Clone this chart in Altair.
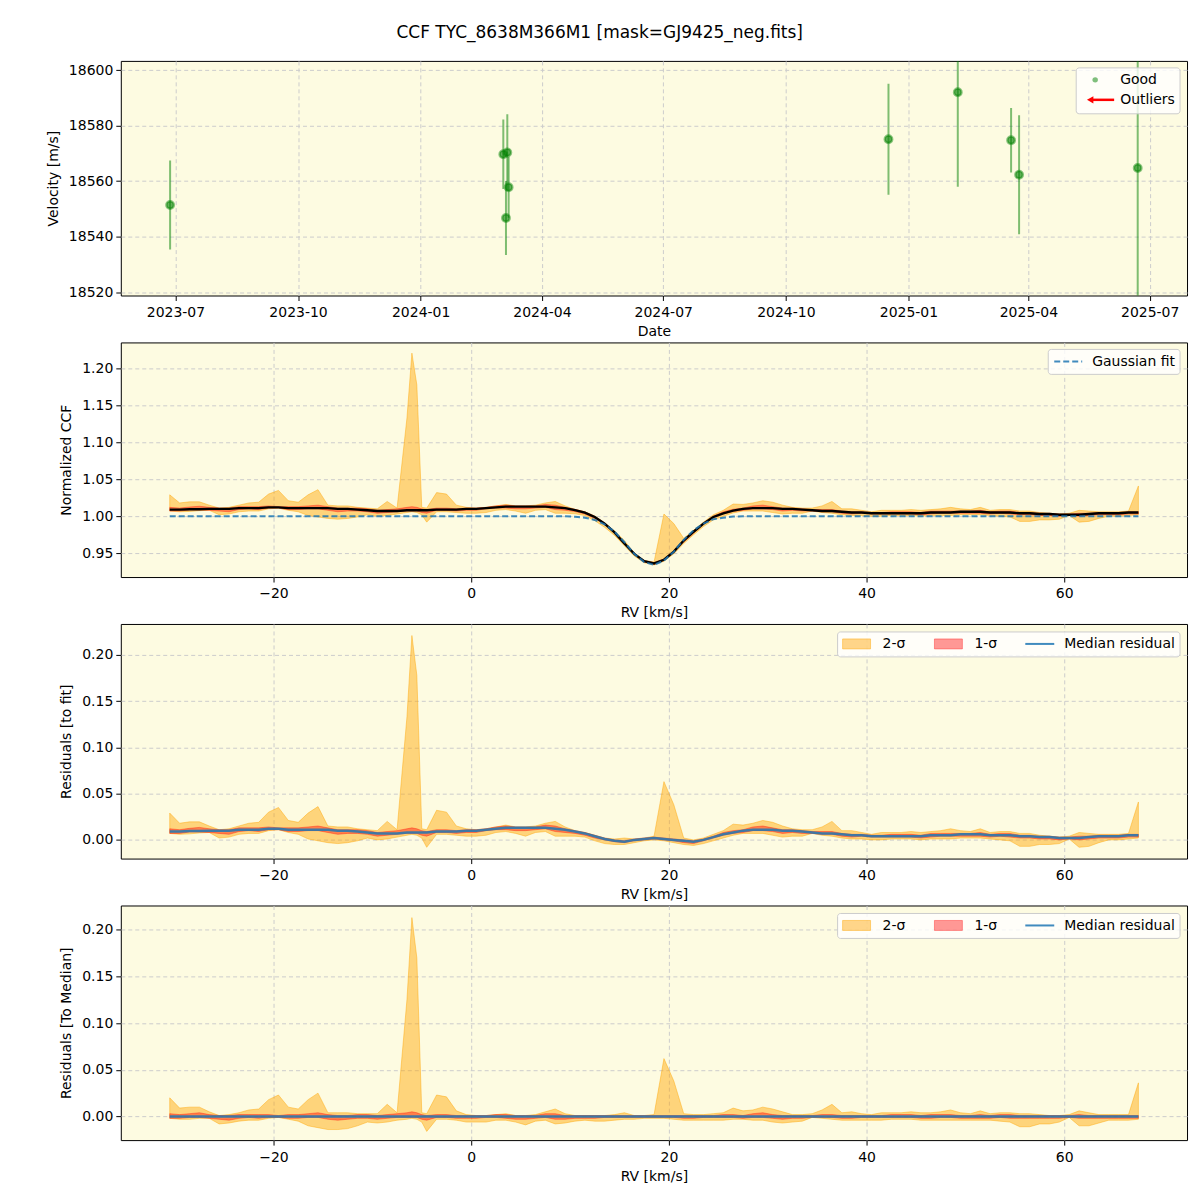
import altair as alt
import pandas as pd

TITLE = "CCF TYC_8638M366M1 [mask=GJ9425_neg.fits]"
FONT = "DejaVu Sans"

# ---------------- Panel 1: RV time series ----------------
OBS_DATES = ["2023-06-27", "2024-03-03", "2024-03-05", "2024-03-06", "2024-03-07",
             "2024-12-17", "2025-02-07", "2025-03-19", "2025-03-25", "2025-06-22"]
OBS_RV = [18551.4, 18569.7, 18546.7, 18570.3, 18557.8,
          18575.1, 18592.0, 18574.7, 18562.3, 18564.7]
OBS_ERR = [16.0, 12.5, 13.3, 13.8, 11.0, 20.0, 34.0, 11.6, 21.4, 48.0]
DATE_TICKS = [(2023, 7), (2023, 10), (2024, 1), (2024, 4), (2024, 7),
              (2024, 10), (2025, 1), (2025, 4), (2025, 7)]
VEL_TICKS = [18520, 18540, 18560, 18580, 18600]

# ---------------- CCF panels ----------------
RV_GRID = [-30.5, -29.5, -28.5, -27.5, -26.5, -25.5, -24.5, -23.5, -22.5, -21.5,
           -20.5, -19.5, -18.5, -17.5, -16.5, -15.5, -14.5, -13.5, -12.5, -11.5,
           -10.5, -9.5, -8.5, -7.5, -6.5, -6.0, -5.5, -5.0, -4.5, -3.5,
           -2.5, -1.5, -0.5, 0.5, 1.5, 2.5, 3.5, 4.5, 5.5, 6.5,
           7.5, 8.5, 9.5, 10.5, 11.5, 12.5, 13.5, 14.5, 15.5, 16.5,
           17.5, 18.5, 19.5, 20.5, 21.5, 22.5, 23.5, 24.5, 25.5, 26.5,
           27.5, 28.5, 29.5, 30.5, 31.5, 32.5, 33.5, 34.5, 35.5, 36.5,
           37.5, 38.5, 39.5, 40.5, 41.5, 42.5, 43.5, 44.5, 45.5, 46.5,
           47.5, 48.5, 49.5, 50.5, 51.5, 52.5, 53.5, 54.5, 55.5, 56.5,
           57.5, 58.5, 59.5, 60.5, 61.5, 62.5, 63.5, 64.5, 65.5, 66.5,
           67.5]

MEDIAN_CCF = [1.009, 1.009, 1.0095, 1.0095, 1.010, 1.010, 1.010, 1.011, 1.011, 1.011,
              1.012, 1.012, 1.011, 1.011, 1.011, 1.011, 1.011, 1.010, 1.010, 1.009,
              1.008, 1.007, 1.007, 1.007, 1.008, 1.008, 1.008, 1.008, 1.008, 1.009,
              1.009, 1.009, 1.010, 1.010, 1.011, 1.012, 1.013, 1.013, 1.013, 1.013,
              1.013, 1.012, 1.011, 1.0083, 1.005, 0.999, 0.990, 0.978, 0.963, 0.949,
              0.939, 0.936, 0.941, 0.952, 0.967, 0.979, 0.990, 0.999, 1.004, 1.0075,
              1.010, 1.011, 1.011, 1.011, 1.010, 1.010, 1.009, 1.008, 1.007, 1.007,
              1.006, 1.005, 1.005, 1.004, 1.004, 1.004, 1.004, 1.004, 1.004, 1.005,
              1.005, 1.005, 1.006, 1.006, 1.006, 1.005, 1.005, 1.005, 1.004, 1.004,
              1.003, 1.003, 1.002, 1.002, 1.002, 1.003, 1.004, 1.004, 1.004, 1.005,
              1.005]

GAUSS_FIT = [1.0, 1.0, 1.0, 1.0, 1.0, 1.0, 1.0, 1.0, 1.0, 1.0,
             1.0, 1.0, 1.0, 1.0, 1.0, 1.0, 1.0, 1.0, 1.0, 1.0,
             1.0, 1.0, 1.0, 1.0, 1.0, 1.0, 1.0, 1.0, 1.0, 1.0,
             1.0, 1.0, 1.0, 1.0, 1.0, 1.0, 1.0, 1.0, 1.0, 1.0,
             1.0, 1.0, 1.0, 0.9993, 0.998, 0.995, 0.989, 0.979, 0.965, 0.949,
             0.938, 0.934, 0.940, 0.952, 0.968, 0.981, 0.990, 0.996, 0.998, 0.9995,
             1.0, 1.0, 1.0, 1.0, 1.0, 1.0, 1.0, 1.0, 1.0, 1.0,
             1.0, 1.0, 1.0, 1.0, 1.0, 1.0, 1.0, 1.0, 1.0, 1.0,
             1.0, 1.0, 1.0, 1.0, 1.0, 1.0, 1.0, 1.0, 1.0, 1.0,
             1.0, 1.0, 1.0, 1.0, 1.0, 1.0, 1.0, 1.0, 1.0, 1.0,
             1.0]

# band edges, relative to the median CCF
HI2 = [0.020, 0.009, 0.010, 0.010, 0.005, 0.001, 0.002, 0.004, 0.007, 0.008,
       0.018, 0.023, 0.010, 0.008, 0.018, 0.025, 0.004, 0.004, 0.004, 0.003,
       0.003, 0.003, 0.013, 0.004, 0.125, 0.213, 0.170, 0.004, 0.003, 0.023,
       0.021, 0.006, 0.002, 0.001, 0.001, 0.002, 0.003, 0.001, 0.001, 0.002,
       0.005, 0.008, 0.003, 0.001, 0.001, 0.001, 0.001, 0.002, 0.004, 0.001,
       0.001, 0.002, 0.062, 0.038, 0.003, 0.002, 0.002, 0.003, 0.004, 0.009,
       0.006, 0.007, 0.010, 0.008, 0.005, 0.002, 0.002, 0.003, 0.007, 0.013,
       0.004, 0.005, 0.003, 0.002, 0.004, 0.004, 0.004, 0.005, 0.004, 0.004,
       0.005, 0.007, 0.004, 0.003, 0.006, 0.003, 0.004, 0.004, 0.003, 0.003,
       0.002, 0.001, 0.001, 0.002, 0.006, 0.004, 0.002, 0.002, 0.002, 0.002,
       0.036]
LO2 = [-0.002, -0.003, -0.003, -0.002, -0.002, -0.008, -0.007, -0.005, -0.004, -0.004,
       -0.002, -0.001, -0.003, -0.005, -0.010, -0.012, -0.014, -0.014, -0.013, -0.010,
       -0.006, -0.007, -0.006, -0.004, -0.003, -0.002, -0.003, -0.006, -0.016, -0.003,
       -0.003, -0.004, -0.006, -0.006, -0.006, -0.004, -0.004, -0.006, -0.009, -0.005,
       -0.004, -0.008, -0.007, -0.005, -0.004, -0.005, -0.005, -0.004, -0.003, -0.003,
       -0.002, -0.002, -0.002, -0.003, -0.004, -0.004, -0.004, -0.004, -0.004, -0.003,
       -0.003, -0.004, -0.004, -0.006, -0.007, -0.006, -0.005, -0.001, -0.002, -0.003,
       -0.004, -0.004, -0.004, -0.004, -0.004, -0.003, -0.003, -0.003, -0.004, -0.004,
       -0.004, -0.004, -0.004, -0.004, -0.004, -0.004, -0.005, -0.006, -0.011, -0.011,
       -0.008, -0.008, -0.006, -0.001, -0.010, -0.010, -0.007, -0.004, -0.004, -0.004,
       -0.003]
HI1 = [0.003, 0.002, 0.003, 0.004, 0.002, 0.001, 0.001, 0.002, 0.002, 0.002,
       0.002, 0.001, 0.002, 0.002, 0.003, 0.004, 0.002, 0.001, 0.001, 0.002,
       0.002, 0.001, 0.002, 0.003, 0.004, 0.005, 0.004, 0.002, 0.001, 0.002,
       0.002, 0.001, 0.001, 0.001, 0.001, 0.002, 0.002, 0.001, 0.001, 0.001,
       0.003, 0.003, 0.001, 0.001, 0.001, 0.001, 0.001, 0.001, 0.001, 0.001,
       0.001, 0.001, 0.001, 0.001, 0.001, 0.001, 0.001, 0.001, 0.002, 0.002,
       0.001, 0.003, 0.004, 0.002, 0.001, 0.001, 0.001, 0.001, 0.002, 0.002,
       0.001, 0.001, 0.001, 0.001, 0.001, 0.002, 0.002, 0.002, 0.001, 0.002,
       0.002, 0.002, 0.001, 0.001, 0.002, 0.001, 0.002, 0.002, 0.001, 0.001,
       0.001, 0.001, 0.001, 0.001, 0.002, 0.001, 0.001, 0.001, 0.001, 0.001,
       0.001]
LO1 = [-0.002, -0.002, -0.001, -0.001, -0.002, -0.003, -0.004, -0.002, -0.001, -0.002,
       -0.001, -0.001, -0.002, -0.002, -0.001, -0.001, -0.003, -0.004, -0.003, -0.002,
       -0.002, -0.003, -0.002, -0.001, -0.001, -0.001, -0.001, -0.003, -0.004, -0.001,
       -0.001, -0.002, -0.002, -0.002, -0.001, -0.001, -0.002, -0.003, -0.003, -0.002,
       -0.001, -0.003, -0.003, -0.002, -0.002, -0.002, -0.001, -0.001, -0.001, -0.001,
       -0.001, -0.001, -0.001, -0.001, -0.002, -0.002, -0.001, -0.001, -0.001, -0.001,
       -0.002, -0.001, -0.001, -0.002, -0.003, -0.002, -0.002, -0.001, -0.001, -0.001,
       -0.002, -0.002, -0.001, -0.001, -0.001, -0.001, -0.001, -0.001, -0.002, -0.002,
       -0.001, -0.001, -0.002, -0.002, -0.002, -0.002, -0.001, -0.002, -0.002, -0.002,
       -0.002, -0.002, -0.002, -0.001, -0.002, -0.002, -0.002, -0.002, -0.002, -0.002,
       -0.002]
RV_TICKS = [-20, 0, 20, 40, 60]

# ---------------- layout constants ----------------
W, H = 1068, 235
BG = "#FDFBE1"
ORANGE = "#FFA500"
C0 = "#1f77b4"

# ---------------- Panel 1 ----------------
obs = pd.DataFrame({"date": OBS_DATES, "v": OBS_RV, "err": OBS_ERR})
obs["lo"] = obs["v"] - obs["err"]
obs["hi"] = obs["v"] + obs["err"]

xdate = alt.X("date:T",
              scale=alt.Scale(type="utc", domain=["2023-05-21", "2025-07-29"], nice=False),
              axis=alt.Axis(title="Date", format="%Y-%m",
                            values=[alt.DateTime(year=y, month=m, date=1, utc=True) for y, m in DATE_TICKS]))
vscale = alt.Scale(domain=[18518.8, 18603.3], nice=False, zero=False)
vaxis = alt.Axis(title="Velocity [m/s]", values=VEL_TICKS, format="d")

err_bars = alt.Chart(obs).mark_rule(color="green", opacity=0.5, strokeWidth=2, clip=True).encode(
    x=xdate, y=alt.Y("lo:Q", scale=vscale, axis=vaxis), y2="hi:Q")
pts = alt.Chart(obs).mark_circle(fill="green", fillOpacity=0.6, stroke="green", strokeOpacity=0.45,
                                 strokeWidth=2.5, size=55, clip=True).encode(
    x=xdate, y=alt.Y("v:Q", scale=vscale, axis=vaxis))

one = pd.DataFrame({"k": [0]})


def legend_box(x1, x2, y1, y2):
    return alt.Chart(one).mark_rect(fill="white", fillOpacity=0.8, stroke="#cccccc",
                                    strokeWidth=1, cornerRadius=3).encode(
        x=alt.value(x1), x2=alt.value(x2), y=alt.value(y1), y2=alt.value(y2))


def legend_text(x, y, s):
    return alt.Chart(one).mark_text(align="left", baseline="middle", font=FONT,
                                    fontSize=14, color="black").encode(
        x=alt.value(x), y=alt.value(y), text=alt.value(s))


leg1 = [
    legend_box(957, 1061, 7, 53),
    alt.Chart(one).mark_circle(color="green", opacity=0.5, size=30).encode(
        x=alt.value(976), y=alt.value(19)),
    legend_text(1001, 19.5, "Good"),
    alt.Chart(one).mark_rule(color="red", strokeWidth=2.5).encode(
        x=alt.value(973), x2=alt.value(995), y=alt.value(39)),
    alt.Chart(one).mark_point(shape="triangle-left", filled=True, color="red", opacity=1, size=55).encode(
        x=alt.value(971), y=alt.value(39)),
    legend_text(1001, 39.5, "Outliers"),
]

panel1 = alt.layer(err_bars, pts, *leg1).properties(width=W, height=H)

# ---------------- CCF derived tables ----------------
df = pd.DataFrame({"rv": RV_GRID, "med": MEDIAN_CCF, "fit": GAUSS_FIT,
                   "hi2": HI2, "lo2": LO2, "hi1": HI1, "lo1": LO1})


def table(base, mid):
    return pd.DataFrame({
        "rv": df["rv"],
        "lo2": df["med"] + df["lo2"] - base,
        "hi2": df["med"] + df["hi2"] - base,
        "lo1": df["med"] + df["lo1"] - base,
        "hi1": df["med"] + df["hi1"] - base,
        "mid": mid,
        "fit": df["fit"],
    })


t2 = table(0.0, df["med"])
t3 = table(df["fit"], df["med"] - df["fit"])
t4 = table(df["med"], df["med"] - df["med"])

xrv = alt.X("rv:Q", scale=alt.Scale(domain=[-35.45, 72.42], nice=False, zero=False),
            axis=alt.Axis(title="RV [km/s]", values=RV_TICKS, format="d"))


def ccf_panel(t, ydom, yticks, ytitle, mid_color, mid_width, with_fit, legend):
    ys = alt.Scale(domain=ydom, nice=False, zero=False)
    ya = alt.Axis(title=ytitle, values=yticks, format=".2f")
    b2 = alt.Chart(t).mark_area(fill=ORANGE, fillOpacity=0.45, stroke=ORANGE, strokeOpacity=0.45,
                                strokeWidth=1, clip=True).encode(
        x=xrv, y=alt.Y("lo2:Q", scale=ys, axis=ya), y2="hi2:Q")
    b1 = alt.Chart(t).mark_area(fill="red", fillOpacity=0.4, stroke="red", strokeOpacity=0.35,
                                strokeWidth=1, clip=True).encode(
        x=xrv, y=alt.Y("lo1:Q", scale=ys, axis=ya), y2="hi1:Q")
    mline = alt.Chart(t).mark_line(color=mid_color, strokeWidth=mid_width, clip=True,
                                   opacity=1 if mid_color == "black" else 0.85).encode(
        x=xrv, y=alt.Y("mid:Q", scale=ys, axis=ya))
    layers = [b2, b1, mline]
    if with_fit:
        layers.append(alt.Chart(t).mark_line(color=C0, strokeWidth=2, strokeDash=[6, 3],
                                             opacity=0.85, clip=True).encode(
            x=xrv, y=alt.Y("fit:Q", scale=ys, axis=ya)))
    return alt.layer(*layers, *legend).properties(width=W, height=H)


leg2 = [
    legend_box(929, 1061, 7, 32),
    alt.Chart(one).mark_rule(color=C0, strokeWidth=2, strokeDash=[6, 3], opacity=0.85).encode(
        x=alt.value(935), x2=alt.value(963), y=alt.value(19)),
    legend_text(973, 19.5, "Gaussian fit"),
]


def res_legend():
    return [
        legend_box(718, 1061, 8, 33),
        alt.Chart(one).mark_rect(fill=ORANGE, fillOpacity=0.45, stroke=ORANGE, strokeOpacity=0.45).encode(
            x=alt.value(723), x2=alt.value(751), y=alt.value(15), y2=alt.value(25)),
        legend_text(763, 20.5, "2-σ"),
        alt.Chart(one).mark_rect(fill="red", fillOpacity=0.4, stroke="red", strokeOpacity=0.35).encode(
            x=alt.value(815), x2=alt.value(843), y=alt.value(15), y2=alt.value(25)),
        legend_text(855, 20.5, "1-σ"),
        alt.Chart(one).mark_rule(color=C0, strokeWidth=2, opacity=0.85).encode(
            x=alt.value(906), x2=alt.value(935), y=alt.value(20)),
        legend_text(945, 20.5, "Median residual"),
    ]


panel2 = ccf_panel(t2, [0.9176, 1.2355], [0.95, 1.00, 1.05, 1.10, 1.15, 1.20],
                   "Normalized CCF", "black", 2.4, True, leg2)
panel3 = ccf_panel(t3, [-0.0202, 0.2335], [0.00, 0.05, 0.10, 0.15, 0.20],
                   "Residuals [to fit]", C0, 2.5, False, res_legend())
panel4 = ccf_panel(t4, [-0.0253, 0.2260], [0.00, 0.05, 0.10, 0.15, 0.20],
                   "Residuals [To Median]", C0, 2.5, False, res_legend())

chart = alt.vconcat(panel1, panel2, panel3, panel4, spacing=2).properties(
    title=alt.TitleParams(TITLE, font=FONT, fontSize=17, fontWeight="normal", color="black",
                          anchor="middle", offset=18, dx=-17),
    padding={"left": 45, "top": 23, "right": 12, "bottom": 10},
    background="white",
).configure_view(
    stroke="black", strokeWidth=1, fill=BG
).configure_axis(
    labelFont=FONT, titleFont=FONT, labelFontSize=14, titleFontSize=14,
    titleFontWeight="normal", labelColor="black", titleColor="black",
    tickColor="black", tickSize=5, tickWidth=1, domain=False,
    grid=True, gridColor="#cccccc", gridDash=[4, 3], gridWidth=1,
    labelOverlap=False,
).configure_axisX(
    labelPadding=5, titlePadding=5,
).configure_axisY(
    labelPadding=3, titlePadding=8,
)

chart.save("out.html", embed_options={"renderer": "svg", "actions": False})
